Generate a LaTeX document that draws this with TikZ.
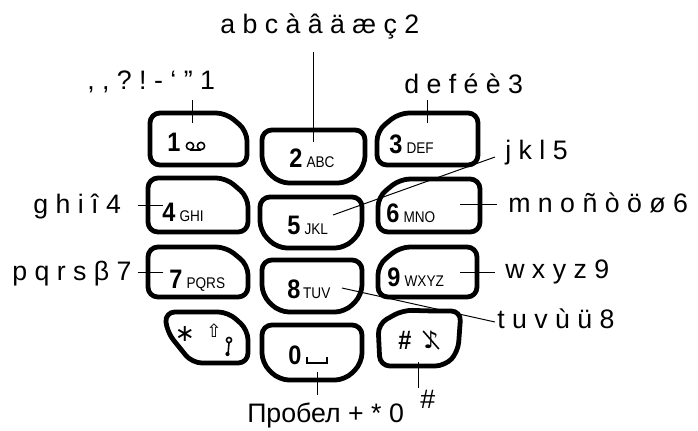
\documentclass[tikz,border=0pt]{standalone}
\usepackage{fontspec}
\setmainfont{Liberation Sans}
\newfontfamily\keyfont[FakeStretch=0.88]{Liberation Sans}
\newfontfamily\symfont{DejaVu Sans}
\newcommand{\keynum}[1]{{\keyfont\bfseries\fontsize{19}{19}\selectfont #1}}
\newcommand{\keyabc}[1]{{\keyfont\fontsize{11}{11}\selectfont #1}}

\begin{document}
\frenchspacing
\begin{tikzpicture}[x = 0.025cm, y = -0.025cm,
	keycap/.style = {line width = 3.4pt, rounded corners = 7pt, line join = round},
	lead/.style = {line width = 0.7pt},
	chars/.style = {font = \fontsize{19}{22}\selectfont, inner sep = 0pt, anchor = base west},
	keylabel/.style = {inner sep = 0pt, anchor = base west}]
	
	\useasboundingbox (0, 0) rectangle (698, 430);
	
	% Left column of keys
	
	\begin{scope}[keycap]
	
		\draw (190, 113) -- (226, 113) -- (247, 131) -- (247, 165) -- (150, 165) -- (150, 113) -- cycle;
		\draw (190, 178) -- (226, 178) -- (248, 197) -- (248, 232) -- (148, 232) -- (148, 178) -- cycle;
		\draw (190, 247) -- (226, 247) -- (248, 265) -- (248, 297) -- (148, 297) -- (148, 247) -- cycle;
		\draw (198, 312) -- (228, 312) -- (248, 330) -- (248, 363) -- (192, 363) -- (167, 332) -- (165, 312) -- cycle;
		
	\end{scope}
	
	% Middle column of keys
	
	\begin{scope}[keycap]
	
		\draw (313, 130) -- (365, 130) -- (365, 166) -- (348, 183) -- (279, 183) -- (262, 166) -- (262, 130) -- cycle;
		\draw (311, 197) -- (362, 197) -- (362, 231) -- (345, 248) -- (277, 248) -- (260, 231) -- (260, 197) -- cycle;
		\draw (312, 260) -- (362, 260) -- (362, 295) -- (345, 312) -- (279, 312) -- (262, 295) -- (262, 260) -- cycle;
		\draw (312, 325) -- (362, 325) -- (362, 363) -- (345, 380) -- (279, 380) -- (262, 363) -- (262, 325) -- cycle;
		
	\end{scope}
	
	% Right column of keys
	
	\begin{scope}[keycap]
	
		\draw (430, 113) -- (478, 113) -- (478, 165) -- (377, 165) -- (377, 131) -- (399, 113) -- cycle;
		\draw (430, 179) -- (480, 179) -- (480, 232) -- (378, 232) -- (378, 197) -- (400, 179) -- cycle;
		\draw (430, 247) -- (477, 247) -- (477, 297) -- (378, 297) -- (378, 265) -- (400, 247) -- cycle;
		\draw (430, 311) -- (461, 311) -- (458, 352) -- (445, 366) -- (380, 366) -- (378, 324) -- (403, 310) -- cycle;
		
	\end{scope}
	
	% Printing on the keys
	
	\node [keylabel] (k1) at (167, 151) {\keynum{1}};
	\node [keylabel] (k2) at (289, 167) {\keynum{2}\hspace{3pt}\keyabc{ABC}};
	\node [keylabel] (k3) at (389, 153) {\keynum{3}\hspace{3pt}\keyabc{DEF}};
	\node [keylabel] (k4) at (162, 221) {\keynum{4}\hspace{3pt}\keyabc{GHI}};
	\node [keylabel] (k5) at (287, 234) {\keynum{5}\hspace{3pt}\keyabc{JKL}};
	\node [keylabel] (k6) at (386, 222) {\keynum{6}\hspace{3pt}\keyabc{MNO}};
	\node [keylabel] (k7) at (169, 288) {\keynum{7}\hspace{3pt}\keyabc{PQRS}};
	\node [keylabel] (k8) at (287, 298) {\keynum{8}\hspace{2pt}\keyabc{TUV}};
	\node [keylabel] (k9) at (387, 286) {\keynum{9}\hspace{3pt}\keyabc{WXYZ}};
	\node [keylabel] (k0) at (288, 364) {\keynum{0}};
	\node [inner sep = 0pt] (kstar) at (185, 334) {\symfont\fontsize{17}{17}\selectfont ∗};
	\node [inner sep = 0pt] (kshift) at (214, 331) {\symfont\fontsize{13}{13}\selectfont ⇧};
	\node [inner sep = 0pt] (khash) at (405, 340) {\keyfont\bfseries\fontsize{19}{19}\selectfont \#};
	\node [inner sep = 0pt] (knote) at (431, 340) {\symfont\fontsize{17}{17}\selectfont ♪};
	
	% Small icons
	
	\begin{scope}[line width = 1.1pt]
	
		\draw (190, 146) circle (2.6pt) (201, 146) circle (2.6pt);
		\draw (190, 150) -- (201, 150);
		\draw (307, 357) -- (307, 363) -- (327, 363) -- (327, 357);
		\draw (229, 340) circle (1.8pt);
		\draw (229, 343) -- (228, 354);
		\fill (227.5, 354) circle (1.5pt);
		\draw (knote.north west) -- (knote.south east);
		
	\end{scope}
	
	% Leader ends
	
	\coordinate (p1) at (192, 123);  \coordinate (q1) at (192, 100);
	\coordinate (p2) at (313, 142);  \coordinate (q2) at (313, 52);
	\coordinate (p3) at (427, 123);  \coordinate (q3) at (427, 100);
	\coordinate (p4) at (163, 205);  \coordinate (q4) at (138, 205);
	\coordinate (p5) at (333, 215);  \coordinate (q5) at (495, 157);
	\coordinate (p6) at (460, 204);  \coordinate (q6) at (497, 204);
	\coordinate (p7) at (163, 272);  \coordinate (q7) at (138, 272);
	\coordinate (p8) at (342, 288);  \coordinate (q8) at (495, 322);
	\coordinate (p9) at (460, 272);  \coordinate (q9) at (495, 272);
	\coordinate (p0) at (317, 372);  \coordinate (q0) at (317, 395);
	\coordinate (ph) at (418, 362);  \coordinate (qh) at (418, 388);
	
	\begin{scope}[lead]
	
		\draw (p1) -- (q1);
		\draw (p2) -- (q2);
		\draw (p3) -- (q3);
		\draw (p4) -- (q4);
		\draw (p5) -- (q5);
		\draw (p6) -- (q6);
		\draw (p7) -- (q7);
		\draw (p8) -- (q8);
		\draw (p9) -- (q9);
		\draw (p0) -- (q0);
		\draw (ph) -- (qh);
		
	\end{scope}
	
	% Characters reached through each key
	
	\node [chars] (l1) at (87, 89) {, , ? ! - ‘ ” 1};
	\node [chars] (l2) at (220, 33) {a b c à â ä æ ç 2};
	\node [chars] (l3) at (404, 93) {d e f é è 3};
	\node [chars] (l4) at (33, 213) {g h i î 4};
	\node [chars] (l5) at (505, 159) {j k l 5};
	\node [chars] (l6) at (508, 212) {m n o ñ ò ö ø 6};
	\node [chars] (l7) at (12, 280) {p q r s β 7};
	\node [chars] (l8) at (497, 328) {t u v ù ü 8};
	\node [chars] (l9) at (505, 278) {w x y z 9};
	\node [chars] (l0) at (247, 422) {Пробел + * 0};
	\node [chars] (lh) at (420, 408) {\#};

\end{tikzpicture}
\end{document}
